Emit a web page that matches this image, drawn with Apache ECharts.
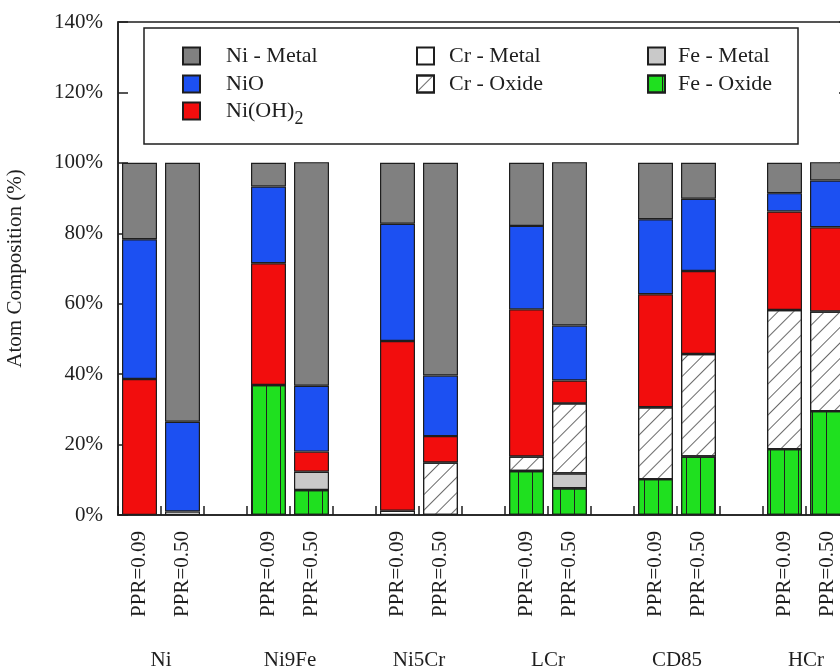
<!DOCTYPE html>
<html>
<head>
<meta charset="utf-8">
<script src="https://cdn.jsdelivr.net/npm/echarts@6/dist/echarts.min.js"></script>
<style>
  html, body { margin: 0; padding: 0; background: #fff; }
  #chart { width: 840px; height: 667px; }
</style>
</head>
<body>
<div id="chart"></div>
<script>
// Alloys and the two PPR conditions measured for each
const alloys = ['Ni', 'Ni9Fe', 'Ni5Cr', 'LCr', 'CD85', 'HCr'];
const pprLabels = ['PPR=0.09', 'PPR=0.50'];

// Y axis range (percent)
const yMin = 0;
const yMax = 140;
const yStep = 20;

// Atom composition (%) per bar: alloys in order, PPR=0.09 then PPR=0.50
const feOxide = [0, 0, 36.9, 7.1, 0, 0, 12.5, 7.6, 10.2, 16.6, 18.7, 29.5];
const feMetal = [0, 0, 0, 5.2, 0, 0, 0, 4.2, 0, 0, 0, 0];
const crOxide = [0, 0, 0, 0, 0, 14.9, 4.1, 19.9, 20.4, 29.1, 39.5, 28.3];
const crMetal = [0, 1.0, 0, 0, 1.2, 0, 0, 0, 0, 0, 0, 0];
const niOH2   = [38.6, 0, 34.6, 5.7, 48.2, 7.5, 41.8, 6.5, 32.1, 23.6, 28.0, 23.9];
const niO     = [39.7, 25.5, 21.8, 18.7, 33.3, 17.2, 23.7, 15.6, 21.3, 20.5, 5.2, 13.3];
const niMetal = [21.7, 73.5, 6.7, 63.5, 17.3, 60.4, 17.9, 46.4, 16.0, 10.2, 8.6, 5.2];

const FONT = '"Liberation Serif", "DejaVu Serif", serif';
const INK = '#1e1e1e';

// Category slots: two bars per alloy, an empty slot between alloys
const slotLabels = [];
alloys.forEach((a, i) => {
  pprLabels.forEach(p => slotLabels.push(p));
  if (i < alloys.length - 1) slotLabels.push('');
});

function toSlots(values) {
  const out = [];
  let k = 0;
  alloys.forEach((a, i) => {
    pprLabels.forEach(() => {
      const v = values[k++];
      out.push(v > 0 ? v : null);
    });
    if (i < alloys.length - 1) out.push(null);
  });
  return out;
}

// Slot boundaries; alloy names sit on the boundary between their two bars
const groupLabels = [''];
alloys.forEach(a => groupLabels.push(a, '', ''));
groupLabels.length = slotLabels.length + 1;

const layers = [
  { name: 'Fe - Oxide', values: feOxide, color: '#1fe01f',
    decal: { symbol: 'rect', symbolSize: 1, color: '#202020', dashArrayX: [1, 13], dashArrayY: [100, 0] } },
  { name: 'Fe - Metal', values: feMetal, color: '#c9c9c9' },
  { name: 'Cr - Oxide', values: crOxide, color: '#ffffff',
    decal: { symbol: 'rect', symbolSize: 1, color: '#6a6a6a', dashArrayX: [1, 10], dashArrayY: [100, 0], rotation: Math.PI / 4 } },
  { name: 'Cr - Metal', values: crMetal, color: '#ffffff' },
  { name: 'Ni(OH)2', values: niOH2, color: '#f20d0d' },
  { name: 'NiO', values: niO, color: '#1c50f2' },
  { name: 'Ni - Metal', values: niMetal, color: '#808080' }
];

const series = layers.map(l => ({
  name: l.name,
  type: 'bar',
  stack: 'atoms',
  barWidth: 35,
  data: toSlots(l.values),
  itemStyle: Object.assign(
    { color: l.color, borderColor: INK, borderWidth: 1.2 },
    l.decal ? { decal: l.decal } : {}
  ),
  emphasis: { disabled: true }
}));

// One legend entry per component so each key sits at its own place in the box
function legendEntry(name, left, top, textGap) {
  return {
    data: [name],
    left: left,
    top: top,
    padding: 0,
    icon: 'rect',
    itemWidth: 17,
    itemHeight: 17,
    selectedMode: false,
    formatter: n => n === 'Ni(OH)2' ? '{t|Ni(OH)}{s|2}' : n,
    textStyle: {
      fontFamily: FONT,
      fontSize: 22,
      color: INK,
      padding: [0, 0, 0, textGap],
      rich: {
        t: { fontFamily: FONT, fontSize: 22, color: INK },
        s: { fontFamily: FONT, fontSize: 18, color: INK, padding: [16, 0, 0, 0] }
      }
    }
  };
}

const option = {
  backgroundColor: '#fff',
  animation: false,
  textStyle: { fontFamily: FONT },
  grid: {
    left: 118, top: 22, width: 731, height: 493,
    containLabel: false,
    outerBoundsMode: 'none',
    show: true, borderColor: INK, borderWidth: 1.5, backgroundColor: 'transparent'
  },
  graphic: [{
    type: 'rect',
    z: 3,
    shape: { x: 144, y: 28, width: 654, height: 116 },
    style: { fill: '#fff', stroke: INK, lineWidth: 1.5 }
  }],
  legend: [
    legendEntry('Ni - Metal', 182, 45, 21),
    legendEntry('NiO', 182, 73, 21),
    legendEntry('Ni(OH)2', 182, 100, 21),
    legendEntry('Cr - Metal', 416, 45, 10),
    legendEntry('Cr - Oxide', 416, 73, 10),
    legendEntry('Fe - Metal', 647, 45, 8),
    legendEntry('Fe - Oxide', 647, 73, 8)
  ],
  xAxis: [
    {
      type: 'category',
      data: slotLabels,
      position: 'bottom',
      boundaryGap: true,
      axisLine: { lineStyle: { color: INK, width: 1.5 } },
      axisTick: { show: true, inside: true, length: 9, interval: 0, lineStyle: { color: INK, width: 1.5 } },
      axisLabel: { interval: 0, rotate: 90, margin: 16, fontSize: 21, color: INK, fontFamily: FONT }
    },
    {
      type: 'category',
      data: groupLabels,
      position: 'bottom',
      boundaryGap: false,
      axisLine: { show: false },
      axisTick: { show: false },
      axisLabel: { interval: 0, margin: 135, fontSize: 21, color: INK, fontFamily: FONT }
    }
  ],
  yAxis: [
    {
      type: 'value',
      min: yMin, max: yMax, interval: yStep,
      name: 'Atom Composition (%)',
      nameLocation: 'middle',
      nameGap: 92,
      nameTextStyle: { fontSize: 21, color: INK, fontFamily: FONT },
      axisLine: { show: true, lineStyle: { color: INK, width: 1.5 } },
      axisTick: { show: true, inside: true, length: 10, lineStyle: { color: INK, width: 1.5 } },
      axisLabel: { formatter: v => v + '%', fontSize: 21, margin: 15, color: INK, fontFamily: FONT },
      splitLine: { show: false }
    },
    {
      type: 'value',
      position: 'right',
      min: yMin, max: yMax, interval: yStep,
      axisLine: { show: true, lineStyle: { color: INK, width: 1.5 } },
      axisTick: { show: true, inside: true, length: 10, lineStyle: { color: INK, width: 1.5 } },
      axisLabel: { show: false },
      splitLine: { show: false }
    }
  ],
  series: series
};

const chart = echarts.init(document.getElementById('chart'), null, { renderer: 'canvas' });
chart.setOption(option);
</script>
</body>
</html>
